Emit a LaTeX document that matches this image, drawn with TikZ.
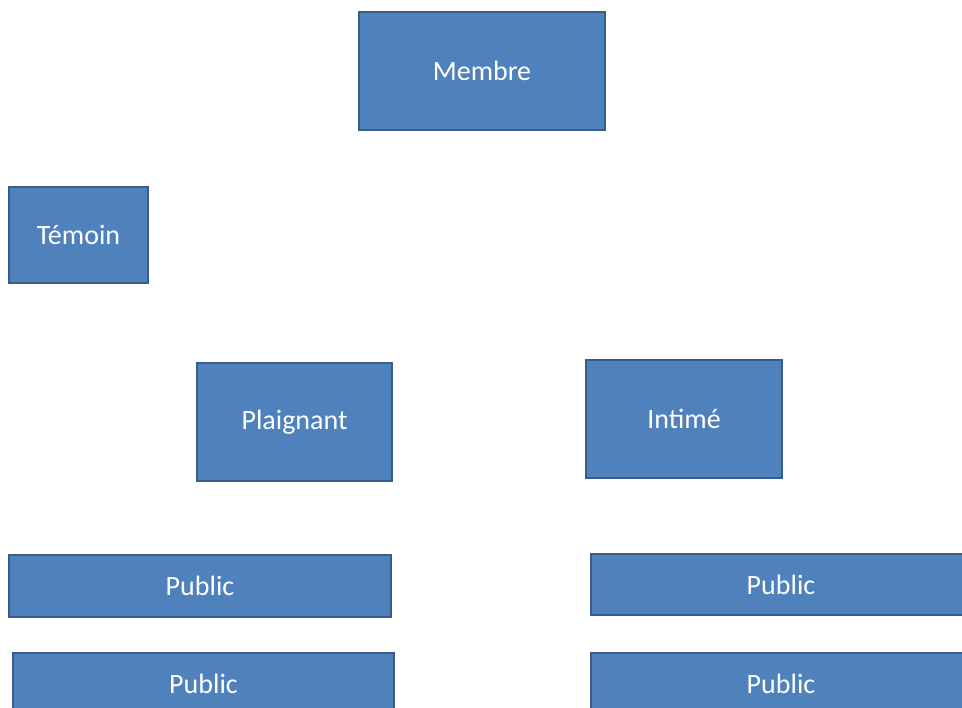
\documentclass[tikz,border=0pt]{standalone}
\usepackage{fontspec}
\setmainfont{Carlito}
\definecolor{boxfill}{HTML}{4F81BD}
\definecolor{boxline}{HTML}{385D8A}
\begin{document}
\begin{tikzpicture}[x=1pt,y=-1pt,
  box/.style={draw=boxline, fill=boxfill, line width=2.5pt, rectangle,
    text=white, font=\fontsize{28}{34}\selectfont, inner sep=0pt}]
\useasboundingbox (0,0) rectangle (962,708);
\clip (0,0) rectangle (962,708);
\node[box, minimum width=246pt, minimum height=118pt] (membre) at (482,71) {Membre};
\node[box, minimum width=139pt, minimum height=96pt] (temoin) at (78.5,235) {Témoin};
\node[box, minimum width=195pt, minimum height=118pt] (plaignant) at (294.5,422) {Plaignant};
\node[box, minimum width=196pt, minimum height=118pt] (intime) at (684,419) {Intimé};
\node[box, minimum width=382pt, minimum height=62pt] (publ1) at (200,586) {Public};
\node[box, minimum width=381pt, minimum height=62pt] (publ2) at (203.5,684) {Public};
\node[box, minimum width=380pt, minimum height=61pt] (pubr1) at (781,584.5) {Public};
\node[box, minimum width=380pt, minimum height=62pt] (pubr2) at (781,684) {Public};
\end{tikzpicture}
\end{document}
